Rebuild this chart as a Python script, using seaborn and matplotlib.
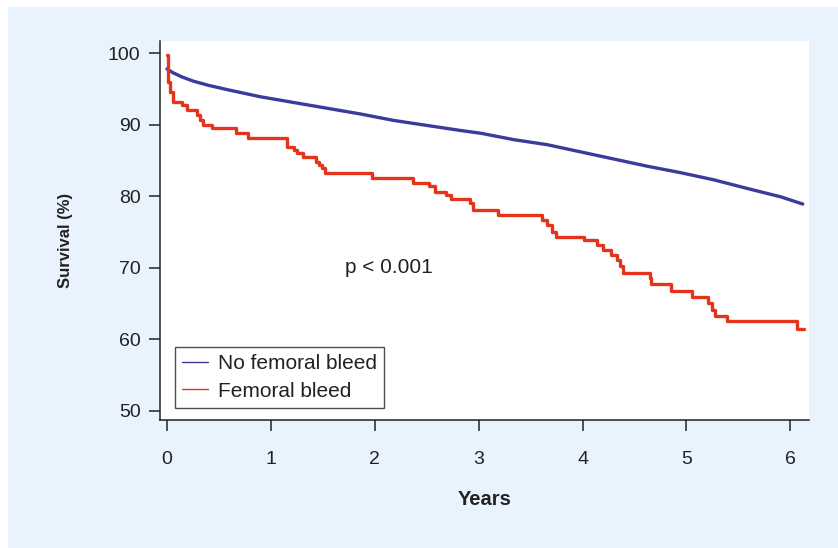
import numpy as np
import pandas as pd
import seaborn as sns
import matplotlib.pyplot as plt
from matplotlib.lines import Line2D
from matplotlib.patches import Rectangle

# ---------- data ----------
# No femoral bleed: smooth survival curve (years, %)
no_bleed_years = [0.00, 0.06, 0.14, 0.25, 0.40, 0.58, 0.90, 1.22, 1.54, 1.86, 2.18, 2.50,
                  2.82, 3.02, 3.34, 3.66, 3.98, 4.30, 4.62, 4.94, 5.26, 5.58, 5.91, 6.12]
no_bleed_surv = [97.8, 97.25, 96.7, 96.1, 95.5, 94.9, 93.9, 93.1, 92.3, 91.5, 90.6, 89.9,
                 89.2, 88.8, 87.9, 87.2, 86.2, 85.2, 84.2, 83.3, 82.3, 81.1, 79.9, 78.9]

# Femoral bleed: Kaplan-Meier steps (time of drop, new survival %)
bleed_years = [0.00, 0.01, 0.03, 0.06, 0.14, 0.19, 0.29, 0.32, 0.35, 0.43, 0.66, 0.78,
               1.16, 1.22, 1.25, 1.31, 1.43, 1.46, 1.49, 1.52, 1.97, 2.37, 2.52, 2.58,
               2.69, 2.73, 2.92, 2.95, 3.19, 3.61, 3.66, 3.71, 3.74, 4.01, 4.14, 4.20,
               4.27, 4.33, 4.36, 4.39, 4.65, 4.66, 4.85, 5.05, 5.21, 5.25, 5.28, 5.39,
               6.06, 6.13]
bleed_surv = [99.7, 96.0, 94.6, 93.2, 92.7, 92.0, 91.3, 90.6, 89.9, 89.5, 88.8, 88.1,
              86.9, 86.5, 86.0, 85.5, 84.8, 84.4, 83.9, 83.2, 82.5, 81.9, 81.4, 80.6,
              80.2, 79.6, 79.0, 78.1, 77.4, 76.7, 76.0, 75.0, 74.3, 73.9, 73.2, 72.5,
              71.8, 71.1, 70.3, 69.3, 68.5, 67.7, 66.7, 65.9, 65.0, 64.1, 63.3, 62.5,
              61.4, 61.4]

series_labels = ['No femoral bleed', 'Femoral bleed']
series_colors = ['#3b3b9c', '#e5341c']
x_ticks = [0, 1, 2, 3, 4, 5, 6]
y_ticks = [50, 60, 70, 80, 90, 100]
p_text = 'p < 0.001'

no_bleed_df = pd.DataFrame({'Years': no_bleed_years, 'Survival': no_bleed_surv})
bleed_df = pd.DataFrame({'Years': bleed_years, 'Survival': bleed_surv})

# ---------- style ----------
sns.set_theme(style='ticks')
plt.rcParams['font.family'] = ['Liberation Sans', 'DejaVu Sans']

fig = plt.figure(figsize=(8.38, 5.48), dpi=100)
fig.patch.set_facecolor('white')
# light blue panel behind the chart
fig.add_artist(Rectangle((8 / 838, 0), 1 - 8 / 838, 1 - 7 / 548,
                         transform=fig.transFigure, facecolor='#e9f3fd',
                         edgecolor='none', zorder=-1))

ax = fig.add_axes([160 / 838, 1 - 420 / 548, (809 - 160) / 838, (420 - 41) / 548])
ax.set_facecolor('white')

sns.lineplot(data=no_bleed_df, x='Years', y='Survival', ax=ax, color=series_colors[0],
             linewidth=2.4, estimator=None, sort=False)
sns.lineplot(data=bleed_df, x='Years', y='Survival', ax=ax, color=series_colors[1],
             linewidth=2.4, estimator=None, sort=False, drawstyle='steps-post')

ax.set_xlim(-0.067, 6.18)
ax.set_ylim(48.7, 101.7)
ax.set_xticks(x_ticks)
ax.set_yticks(y_ticks)

for side in ['top', 'right']:
    ax.spines[side].set_visible(False)
for side in ['left', 'bottom']:
    ax.spines[side].set_color('#222222')
    ax.spines[side].set_linewidth(1.1)

ax.tick_params(axis='both', direction='out', length=8, width=1.1, color='#222222',
               labelsize=14, labelcolor='#222222')
ax.tick_params(axis='x', pad=14)
ax.tick_params(axis='y', pad=6)

ax.set_xlabel('Years', fontsize=14.5, fontweight='bold', color='#222222')
ax.set_ylabel('Survival (%)', fontsize=12, fontweight='bold', color='#222222')
ax.xaxis.set_label_coords(0.5, -0.185)
ax.yaxis.set_label_coords(-0.134, 0.475)

ax.text(1.71, 70.0, p_text, fontsize=15, color='#222222', va='center', ha='left')

handles = [Line2D([0], [0], color=c, linewidth=1) for c in series_colors]
leg = ax.legend(handles, series_labels, loc='lower left', bbox_to_anchor=(0.023, 0.032),
                borderaxespad=0, frameon=True, fancybox=False, fontsize=15,
                handlelength=1.25, handletextpad=0.45, labelspacing=0.4,
                borderpad=0.35)
leg.get_frame().set_edgecolor('#222222')
leg.get_frame().set_linewidth(1.0)
for t in leg.get_texts():
    t.set_color('#222222')

fig.savefig('out.png', dpi=100)
